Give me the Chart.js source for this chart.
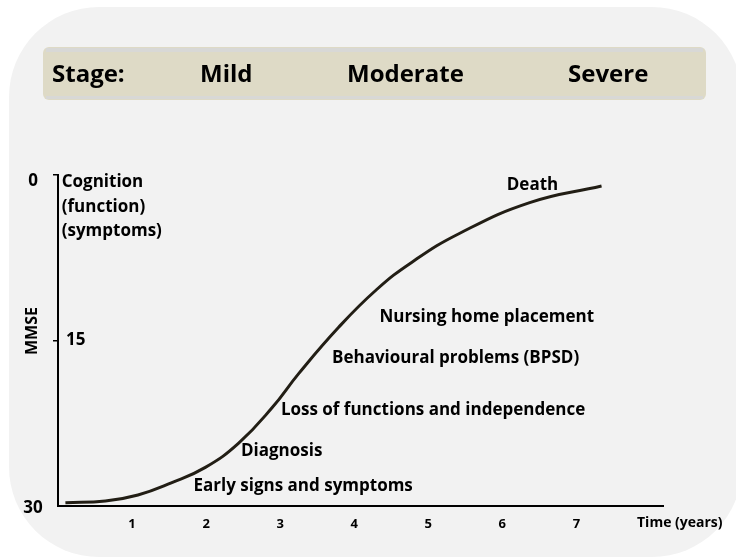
<!DOCTYPE html>
<html>
<head>
<meta charset="utf-8">
<script src="https://cdn.jsdelivr.net/npm/chart.js@4"></script>
<style>
  body { margin: 0; background: #fff; }
  canvas { display: block; }
</style>
</head>
<body>
<canvas id="chart" width="736" height="558"></canvas>
<script>
// Disease course: MMSE score over time (years)
const years = [0.1, 0.64, 1.08, 1.53, 1.99, 2.44, 2.89, 3.25, 3.79, 4.30, 4.78, 5.42, 6.37, 7.34];
const mmse = [29.7, 29.55, 29.0, 27.9, 26.5, 24.3, 21.1, 18.0, 13.8, 10.4, 7.9, 5.3, 2.5, 1.0];

const xTicks = [1, 2, 3, 4, 5, 6, 7];
const yTicks = [0, 15, 30];
const stages = ['Stage:', 'Mild', 'Moderate', 'Severe'];

// milestone labels, anchored in data units [text, year, mmse]
const milestones = [
  ['Cognition', 0.05, 0.63],
  ['(function)', 0.05, 2.9],
  ['(symptoms)', 0.05, 5.08],
  ['Death', 6.06, 0.9],
  ['Nursing home placement', 4.34, 12.87],
  ['Behavioural problems (BPSD)', 3.70, 16.59],
  ['Loss of functions and independence', 3.01, 21.3],
  ['Diagnosis', 2.47, 25.0],
  ['Early signs and symptoms', 1.83, 28.19]
];

const FONT = '"Open Sans", sans-serif';

function roundRect(ctx, x, y, w, h, r) {
  ctx.beginPath();
  ctx.moveTo(x + r, y);
  ctx.arcTo(x + w, y, x + w, y + h, r);
  ctx.arcTo(x + w, y + h, x, y + h, r);
  ctx.arcTo(x, y + h, x, y, r);
  ctx.arcTo(x, y, x + w, y, r);
  ctx.closePath();
}

const decor = {
  id: 'decor',
  beforeDraw(chart) {
    const ctx = chart.ctx;
    ctx.save();
    // panel background
    ctx.fillStyle = '#f2f2f2';
    roundRect(ctx, 9, 7, 733, 550, 90);
    ctx.fill();
    // stage banner
    ctx.fillStyle = '#dedac6';
    roundRect(ctx, 43, 47, 663, 53, 6);
    ctx.fill();
    ctx.fillStyle = '#d8d8d6';
    ctx.fillRect(46, 48, 657, 4);
    ctx.fillRect(46, 96, 657, 3);
    ctx.fillStyle = '#000';
    ctx.font = 'bold 24px ' + FONT;
    ctx.textBaseline = 'middle';
    ctx.textAlign = 'left';
    const sx = [52, 200, 347, 568];
    stages.forEach((s, i) => ctx.fillText(s, sx[i], 75));
    ctx.restore();
  },
  afterDraw(chart) {
    const ctx = chart.ctx;
    const xs = chart.scales.x, ys = chart.scales.y;
    ctx.save();
    ctx.fillStyle = '#000';
    ctx.textBaseline = 'middle';

    // y tick labels: 0 and 30 left of axis, 15 right of it
    ctx.font = 'bold 17px ' + FONT;
    yTicks.forEach(v => {
      const py = ys.getPixelForValue(v);
      if (v === 15) {
        ctx.textAlign = 'left';
        ctx.fillText(String(v), xs.left + 8, py);
      } else {
        ctx.textAlign = 'center';
        ctx.fillText(String(v), 33, py + (v === 0 ? 6 : 2));
      }
    });

    // axis titles
    ctx.font = 'bold 16px ' + FONT;
    ctx.save();
    ctx.translate(32, 331);
    ctx.rotate(-Math.PI / 2);
    ctx.textAlign = 'center';
    ctx.fillText('MMSE', 0, 0);
    ctx.restore();

    ctx.font = 'bold 14px ' + FONT;
    ctx.textAlign = 'left';
    ctx.fillText('Time (years)', 637, 523);

    // milestones
    ctx.font = 'bold 17px ' + FONT;
    milestones.forEach(([t, x, y]) => {
      ctx.fillText(t, xs.getPixelForValue(x), ys.getPixelForValue(y));
    });
    ctx.restore();
  }
};

new Chart(document.getElementById('chart'), {
  type: 'line',
  data: {
    datasets: [{
      data: years.map((x, i) => ({ x: x, y: mmse[i] })),
      borderColor: '#221e15',
      borderWidth: 3,
      pointRadius: 0,
      tension: 0.45,
      fill: false
    }]
  },
  options: {
    responsive: false,
    animation: false,
    devicePixelRatio: 1,
    layout: { padding: { left: 58, top: 175, right: 73, bottom: 0 } },
    plugins: { legend: { display: false }, tooltip: { enabled: false } },
    scales: {
      x: {
        type: 'linear',
        min: 0,
        max: 8.17,
        grid: { display: false },
        border: { display: true, color: '#000', width: 2 },
        ticks: {
          stepSize: 1,
          autoSkip: false,
          maxRotation: 0,
          padding: 2,
          color: '#000',
          font: { family: FONT, size: 13, weight: 'bold' },
          callback: v => xTicks.includes(v) ? String(v) : ''
        },
        afterFit: s => { s.height = 52; }
      },
      y: {
        type: 'linear',
        reverse: true,
        min: 0,
        max: 30,
        ticks: { display: false, stepSize: 15 },
        grid: {
          display: true,
          drawOnChartArea: false,
          drawTicks: true,
          tickLength: 5,
          lineWidth: 1.5,
          color: c => (c.tick && c.tick.value === 30) ? 'rgba(0,0,0,0)' : '#000'
        },
        border: { display: true, color: '#000', width: 2 },
        afterFit: s => { s.width = 0; }
      }
    }
  },
  plugins: [decor]
});
</script>
</body>
</html>
